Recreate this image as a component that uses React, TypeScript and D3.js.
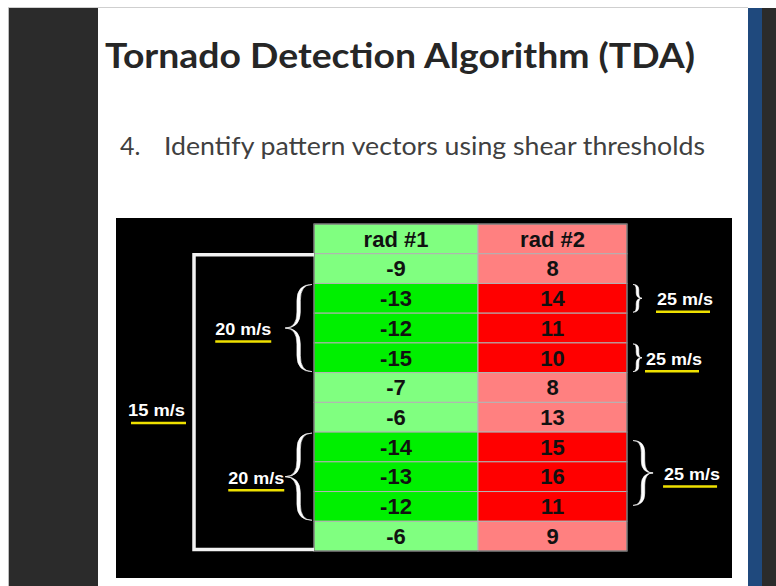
import * as d3 from 'd3';

// table data
const columns = ['rad #1', 'rad #2'];
const rad1 = [-9, -13, -12, -15, -7, -6, -14, -13, -12, -6];
const rad2 = [8, 14, 11, 10, 8, 13, 15, 16, 11, 9];
const strongRows = [false, true, true, true, false, false, true, true, true, false];

// brace annotations, spans are in row units (0 = header row)
const braceLabels = ['20 m/s', '20 m/s', '25 m/s', '25 m/s', '25 m/s'];
const braceSides = ['left', 'left', 'right', 'right', 'right'];
const braceFrom = [2, 7, 2, 4, 7.25];
const braceTo = [5, 10, 3, 5, 9.5];

const spanLabel = '15 m/s';
const spanFrom = 1;
const spanTo = 11;

const title = 'Tornado Detection Algorithm (TDA)';
const bulletNum = '4.';
const bulletText = 'Identify pattern vectors using shear thresholds';

const W = 776;
const H = 586;
const tableFont = '"Liberation Sans", Arial, sans-serif';
const slideFont = 'Lato, "Open Sans", sans-serif';

// layout tweaks per brace label (gap between brace tip and text)
const labelGap = [14, 1, 15, 4, 11];

const colors = {
  greenLight: '#80ff80',
  green: '#00f000',
  redLight: '#ff8080',
  red: '#ff0000',
  yellow: '#efe100',
};

// filled, tapered curly brace (thin at the ends and the tip, thick in the arms)
function bracePath(xOpen: number, xTip: number, y0: number, y1: number, t: number) {
  const ym = (y0 + y1) / 2;
  const xm = (xOpen + xTip) / 2;
  const r = Math.min(Math.abs(xOpen - xTip) * 0.6, (y1 - y0) / 4);
  const a = xm - t / 2;
  const b = xm + t / 2;
  return [
    `M${xOpen},${y0}`,
    `Q${a},${y0} ${a},${y0 + r}`,
    `L${a},${ym - r}`,
    `Q${a},${ym} ${xTip},${ym}`,
    `Q${a},${ym} ${a},${ym + r}`,
    `L${a},${y1 - r}`,
    `Q${a},${y1} ${xOpen},${y1}`,
    `Q${b},${y1} ${b},${y1 - r}`,
    `L${b},${ym + r}`,
    `Q${b},${ym} ${xTip},${ym}`,
    `Q${b},${ym} ${b},${ym - r}`,
    `L${b},${y0 + r}`,
    `Q${b},${y0} ${xOpen},${y0}`,
    'Z',
  ].join(' ');
}

export default function App() {
  const nRows = rad1.length + 1;
  const rowBand = d3.scaleBand<number>().domain(d3.range(nRows)).range([224, 551]);
  const rowLin = d3.scaleLinear().domain([0, nRows]).range([224, 551]);
  const colEdge = d3.scaleLinear().domain([0, 1, 2]).range([314, 478, 627]);
  const rh = rowBand.bandwidth();

  const cellFill = (r: number, c: number) => {
    if (r === 0 || !strongRows[r - 1]) return c === 0 ? colors.greenLight : colors.redLight;
    return c === 0 ? colors.green : colors.red;
  };
  const cellText = (r: number, c: number) => {
    if (r === 0) return columns[c];
    return String(c === 0 ? rad1[r - 1] : rad2[r - 1]);
  };

  const tableLeft = colEdge(0);
  const tableRight = colEdge(2);
  const bracketX = 194;
  const spanTop = rowLin(spanFrom) + 1;
  const spanBottom = rowLin(spanTo) - 1.5;

  return (
    <svg
      width={W}
      height={H}
      style={{ position: 'fixed', left: 0, top: 0, background: '#fff' }}
    >
      {/* slide frame */}
      <rect x={0} y={0} width={W} height={H} fill="#fff" />
      <line x1={8} x2={748} y1={7.5} y2={7.5} stroke="#cfcfcf" />
      <rect x={8} y={8} width={90} height={H - 8} fill="#2b2b2b" />
      <line x1={8.5} x2={8.5} y1={8} y2={H} stroke="#bdbdbd" />
      <rect x={748} y={8} width={14} height={H - 8} fill="#1f497d" />
      <rect x={762} y={8} width={14} height={H - 8} fill="#2b2b2b" />

      {/* heading */}
      <text
        x={105}
        y={68}
        fontFamily={slideFont}
        fontWeight={700}
        fontSize={35}
        fill="#262626"
        textLength={590}
        lengthAdjust="spacingAndGlyphs"
      >
        {title}
      </text>
      <text x={120} y={155} fontFamily={slideFont} fontSize={25} fill="#404040">
        {bulletNum}
      </text>
      <text
        x={164}
        y={155}
        fontFamily={slideFont}
        fontSize={25}
        fill="#404040"
        textLength={541}
        lengthAdjust="spacingAndGlyphs"
      >
        {bulletText}
      </text>

      {/* black panel */}
      <rect x={116} y={218} width={616} height={360} fill="#000" />

      {/* table */}
      <g>
        {d3.range(nRows).map((r) =>
          [0, 1].map((c) => (
            <g key={`${r}-${c}`}>
              <rect
                x={colEdge(c)}
                y={rowBand(r)!}
                width={colEdge(c + 1) - colEdge(c)}
                height={rh}
                fill={cellFill(r, c)}
                stroke="#b4b4b4"
                strokeWidth={1}
              />
              <text
                x={(colEdge(c) + colEdge(c + 1)) / 2}
                y={rowBand(r)! + rh / 2 + 7.8}
                textAnchor="middle"
                fontFamily={tableFont}
                fontWeight={700}
                fontSize={22}
                fill="#111"
              >
                {cellText(r, c)}
              </text>
            </g>
          ))
        )}
        <rect
          x={tableLeft}
          y={rowLin(0)}
          width={tableRight - tableLeft}
          height={rowLin(nRows) - rowLin(0)}
          fill="none"
          stroke="#666"
          strokeWidth={1}
        />
      </g>

      {/* outer bracket spanning the whole column */}
      <path
        d={`M${tableLeft},${spanTop} H${bracketX} V${spanBottom} H${tableLeft}`}
        fill="none"
        stroke="#f2f2f2"
        strokeWidth={3.5}
      />
      <text
        x={bracketX - 9}
        y={(spanTop + spanBottom) / 2 + 14}
        textAnchor="end"
        fontFamily={tableFont}
        fontWeight={700}
        fontSize={16}
        fill="#fff"
        textLength={57}
        lengthAdjust="spacingAndGlyphs"
      >
        {spanLabel}
      </text>
      <line
        x1={bracketX - 63}
        x2={bracketX - 8}
        y1={(spanTop + spanBottom) / 2 + 21}
        y2={(spanTop + spanBottom) / 2 + 21}
        stroke={colors.yellow}
        strokeWidth={2.5}
      />

      {/* braces */}
      {braceLabels.map((label, i) => {
        const y0 = rowLin(braceFrom[i]);
        const y1 = rowLin(braceTo[i]);
        const ym = (y0 + y1) / 2;
        const w = Math.max(9, (y1 - y0) * 0.3);
        const left = braceSides[i] === 'left';
        const xOpen = left ? tableLeft - 2 : tableRight + 6;
        const xTip = left ? xOpen - w : xOpen + w;
        const tx = left ? xTip - labelGap[i] : xTip + labelGap[i];
        const tw = 56;
        const ux0 = left ? tx - tw : tx - 1;
        const ux1 = left ? tx : tx + tw - 3;
        const thick = y1 - y0 > 50 ? 3.4 : 2.6;
        return (
          <g key={i}>
            <path
              d={bracePath(xOpen, xTip, y0 + 1, y1 - 1, thick)}
              fill="#fff"
              stroke="#fff"
              strokeWidth={0.6}
              strokeLinejoin="round"
            />
            <text
              x={tx}
              y={ym + 7}
              textAnchor={left ? 'end' : 'start'}
              fontFamily={tableFont}
              fontWeight={700}
              fontSize={16}
              fill="#fff"
              textLength={tw}
              lengthAdjust="spacingAndGlyphs"
            >
              {label}
            </text>
            <line
              x1={ux0}
              x2={ux1}
              y1={ym + 13.5}
              y2={ym + 13.5}
              stroke={colors.yellow}
              strokeWidth={2.5}
            />
          </g>
        );
      })}
    </svg>
  );
}
